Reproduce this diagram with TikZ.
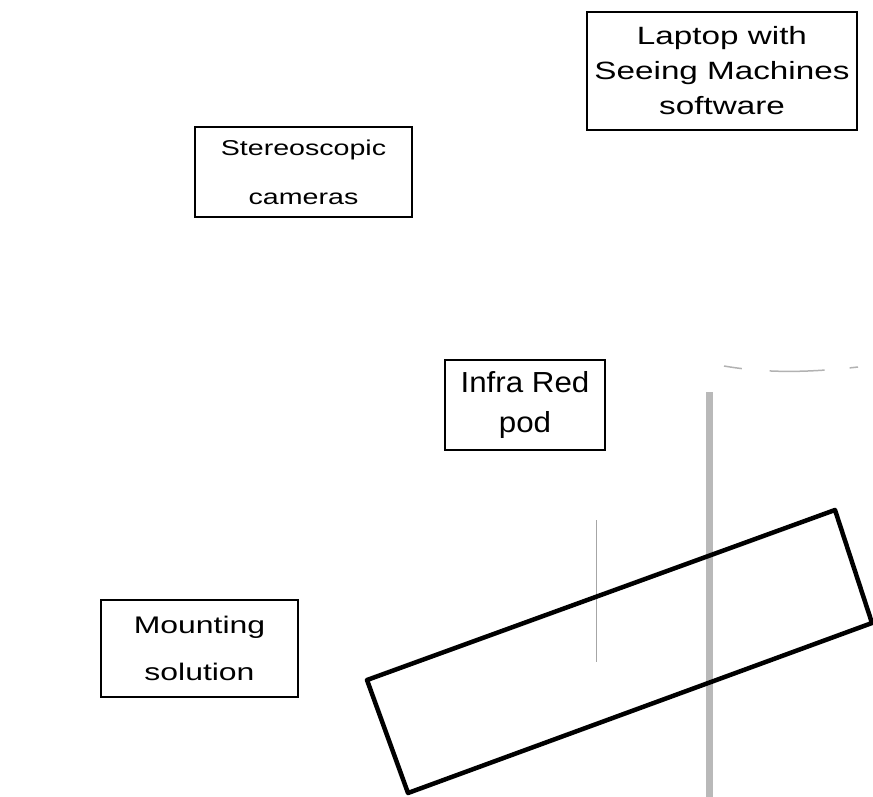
\documentclass[tikz,border=0pt]{standalone}
\usepackage{fontspec}
\newfontfamily\widesans[FakeStretch=1.33]{Liberation Sans}
\newfontfamily\narrowsans[FakeStretch=1.08]{Liberation Sans}
\begin{document}
\begin{tikzpicture}[x=1pt,y=-1pt,labelbox/.style={draw,line width=2.2pt,inner sep=0pt,align=center}]
\useasboundingbox(0,0)rectangle(873,797);
% labels
\node[labelbox,minimum width=270pt,minimum height=118pt,font=\widesans\fontsize{25}{35}\selectfont](lap)at(722,71){Laptop with\\Seeing Machines\\software};
\node[labelbox,minimum width=217pt,minimum height=90pt,font=\widesans\fontsize{21.5}{49}\selectfont](cams)at(303.5,172){Stereoscopic\\cameras};
\node[labelbox,minimum width=160pt,minimum height=90pt,font=\narrowsans\fontsize{29}{40}\selectfont](pod)at(525,405){Infra Red\\pod};
\node[labelbox,minimum width=197pt,minimum height=97pt,font=\widesans\fontsize{24}{47}\selectfont](mount)at(199.5,648.5){Mounting\\solution};
% pole and tilted board
\fill[gray!55](705.5,392)rectangle(712.5,797);
\draw[gray!60,line width=1.5pt,dash pattern=on 18pt off 28pt on 55pt off 25pt on 10pt](724,366)..controls(765,373)and(805,373)..(858,367);
\draw[gray!70,line width=.6pt](596,520)--(596,662);
\draw[line width=4.5pt,line join=round](367,680)--(835,510)--(872,623)--(408,793)--cycle;
\end{tikzpicture}
\end{document}
